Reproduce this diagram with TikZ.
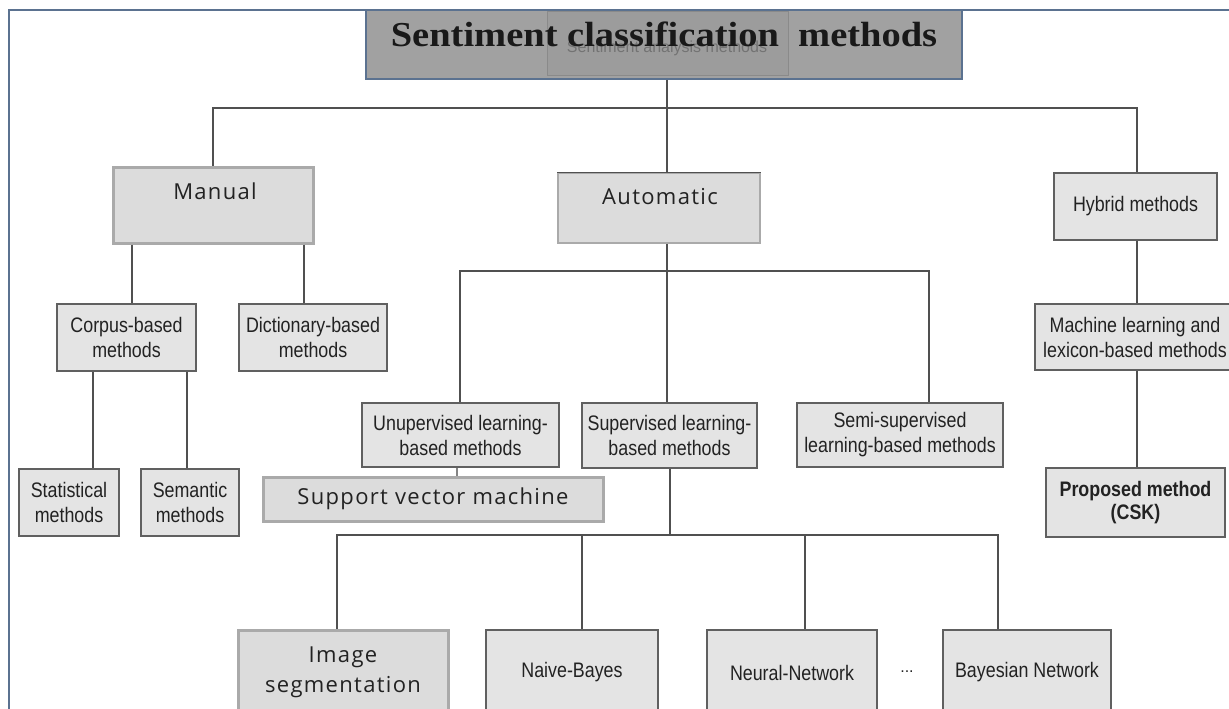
\documentclass[tikz,border=0pt]{standalone}
\usepackage{fontspec}
\setmainfont{Liberation Serif}
\newfontfamily\titlef[FakeStretch=1.1]{Liberation Serif}
\newfontfamily\narrowf[FakeStretch=0.85]{Liberation Sans}
\newfontfamily\segf[LetterSpace=6]{Open Sans}
\newfontfamily\arialf{Liberation Sans}
\definecolor{framec}{HTML}{5B7290}
\definecolor{titlefill}{HTML}{A1A1A1}
\definecolor{innerfill}{HTML}{9C9C9C}
\definecolor{innerline}{HTML}{8A8A8A}
\definecolor{boxfill}{HTML}{E4E4E4}
\definecolor{boxline}{HTML}{606060}
\definecolor{gfill}{HTML}{DCDCDC}
\definecolor{gline}{HTML}{AAAAAA}
\definecolor{linec}{HTML}{505050}
\definecolor{txtc}{HTML}{222222}
\begin{document}
\begin{tikzpicture}[x=1pt,y=-1pt,
  abox/.style={draw=boxline,fill=boxfill,line width=1.5pt,inner sep=0pt,align=center,text=txtc,
    font=\narrowf\fontsize{21}{25}\selectfont},
  gbox/.style={draw=gline,fill=gfill,line width=3pt,inner sep=0pt,align=center,text=txtc,
    font=\segf\fontsize{22}{30}\selectfont},
  conn/.style={draw=linec,line width=2pt},
  sz/.style 2 args={minimum width=#1pt,minimum height=#2pt}]
\useasboundingbox (0,0) rectangle (1229,709);
\clip (0,0) rectangle (1229,709);
% frame
\draw[framec,line width=2.5pt] (1240,10) -- (9,10) -- (9,720);
% title
\node[draw=framec,fill=titlefill,line width=2pt,sz={596}{69}] (title) at (664,44.5) {};
\node[draw=innerline,fill=innerfill,line width=1pt,sz={241}{64}] (inner) at (667.5,44) {};
\node[anchor=base,text=black!55,font=\arialf\fontsize{16}{18}\selectfont] (innert) at (667,53) {Sentiment analysis methods};
\node[anchor=base,text=black!90,font=\titlef\bfseries\fontsize{35}{40}\selectfont] (titlet) at (664,47) {Sentiment classification\ \ methods};
% level 1
\node[gbox,sz={200}{76}] (manual) at (213,205) {};
\node[anchor=base,font=\segf\fontsize{22}{24}\selectfont,text=txtc] (manualt) at (215,199) {Manual};
\node[fill=gfill,draw=gline,line width=1.5pt,sz={202}{70}] (auto) at (659,208) {};
\draw[linec,line width=1.5pt] (auto.north west) -- (auto.north east);
\node[anchor=base,font=\segf\fontsize{22}{24}\selectfont,text=txtc] (autot) at (660,204) {Automatic};
\node[abox,sz={163}{67}] (hybrid) at (1135.5,206.5) {Hybrid methods};
% manual children
\node[abox,sz={139}{67}] (corp) at (126.5,337.5) {Corpus-based\\methods};
\node[abox,sz={148}{67}] (dict) at (313,337.5) {Dictionary-based\\methods};
\node[abox,sz={100}{67}] (stat) at (69,502.5) {Statistical\\methods};
\node[abox,sz={98}{67}] (sem) at (190,502.5) {Semantic\\methods};
% automatic children
\node[abox,sz={197}{64}] (unsup) at (460.5,435) {Unupervised learning-\\based methods};
\node[abox,sz={175}{65}] (sup) at (669.5,435.5) {Supervised learning-\\based methods};
\node[abox,sz={206}{64}] (semi) at (900,435) {Semi-supervised\\learning-based methods};
\node[gbox,sz={340}{44}] (svm) at (433,499) {Support vector machine};
% hybrid children
\node[abox,sz={200}{66}] (ml) at (1135,337) {Machine learning and\\lexicon-based methods};
\node[abox,sz={179}{69},font=\narrowf\bfseries\fontsize{21}{23}\selectfont] (prop) at (1135.5,502.5) {Proposed method\\(CSK)};
% bottom row
\node[gbox,sz={210}{85}] (img) at (343,672.5) {Image\\segmentation};
\node[abox,sz={172}{85}] (nb) at (572,672.5) {Naive-Bayes};
\node[abox,sz={170}{85}] (nn) at (792,672.5) {Neural-Network};
\node[abox,sz={168}{85}] (bn) at (1027,672.5) {Bayesian Network};
\node[font=\arialf\fontsize{16}{18}\selectfont,text=txtc] (dots) at (907,672) {...};
% connectors
\coordinate (j0) at (667,108);
\coordinate (j1) at (667,271);
\coordinate (j2) at (670,535);
\draw[conn] (title.south -| j0) -- (j0);
\draw[conn] (manual.north) |- (j0) -| (hybrid.north -| 1137,0);
\draw[conn] (j0) -- (auto.north -| j0);
\draw[conn] (manual.south -| 132,0) -- (corp.north -| 132,0);
\draw[conn] (manual.south -| 304,0) -- (dict.north -| 304,0);
\draw[conn] (corp.south -| 93,0) -- (stat.north -| 93,0);
\draw[conn] (corp.south -| 187,0) -- (sem.north -| 187,0);
\draw[conn] (auto.south -| j1) -- (sup.north -| j1);
\draw[conn] (unsup.north -| 460,0) |- (j1) -| (semi.north -| 929,0);
\draw[conn,line width=1.2pt,draw=linec!70] (unsup.south -| 457,0) -- (svm.north -| 457,0);
\draw[conn] (sup.south -| j2) -- (j2);
\draw[conn] (img.north -| 337,0) |- (j2) -| (bn.north -| 998,0);
\draw[conn] (j2 -| 582,0) -- (nb.north -| 582,0);
\draw[conn] (j2 -| 805,0) -- (nn.north -| 805,0);
\draw[conn] (hybrid.south -| 1137,0) -- (ml.north -| 1137,0);
\draw[conn] (ml.south -| 1137,0) -- (prop.north -| 1137,0);
\end{tikzpicture}
\end{document}
